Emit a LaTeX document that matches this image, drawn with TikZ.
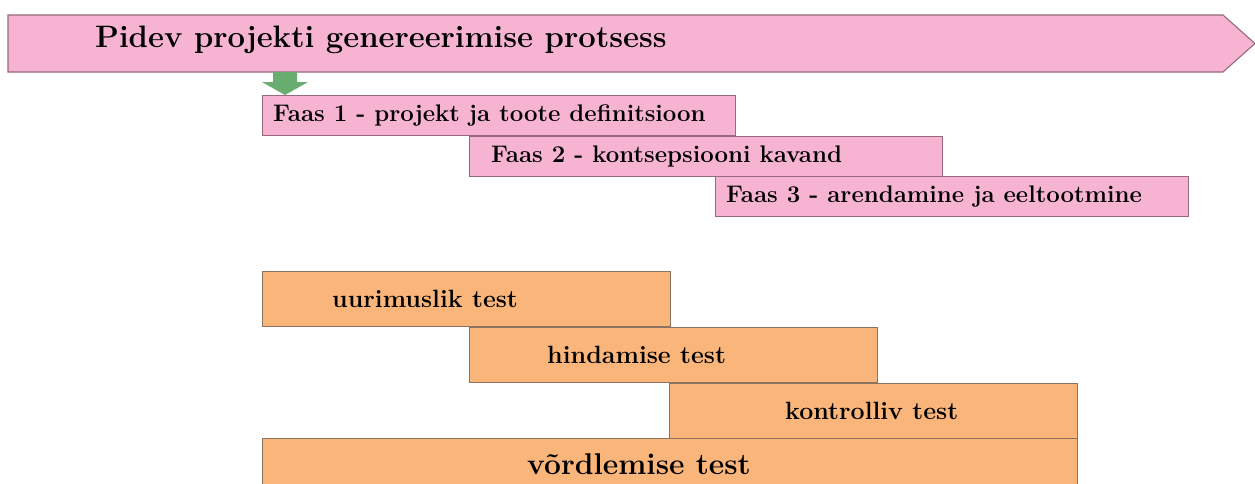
\documentclass[tikz,border=0pt]{standalone}
\usepackage{tikz}
\definecolor{phasepink}{RGB}{247,180,210}
\definecolor{phaseedge}{RGB}{150,105,125}
\definecolor{testorange}{RGB}{250,182,122}
\definecolor{testedge}{RGB}{140,115,95}
\definecolor{startgreen}{RGB}{104,172,112}

\begin{document}
\begin{tikzpicture}[x=1pt, y=-1pt, every node/.style={font=\bfseries},
      phase/.style={draw=phaseedge, line width=1.1pt, fill=phasepink, anchor=north west,
                    minimum width=473pt, minimum height=40pt, inner sep=0pt},
      testbox/.style={draw=testedge, line width=1.1pt, fill=testorange, anchor=north west,
                      minimum width=408pt, minimum height=55pt, inner sep=0pt},
      lbl/.style={anchor=west, inner sep=0pt, font=\bfseries\fontsize{24}{27}\selectfont},
      testlbl/.style={lbl, font=\bfseries\fontsize{25}{28}\selectfont}]
    \useasboundingbox (0,0) rectangle (1255,483);
    % continuous process banner
    \draw[draw=phaseedge, line width=1.1pt, fill=phasepink]
      (8,15) -- (1223,15) -- (1255,43.5) -- (1223,72) -- (8,72) -- cycle;
    \node[anchor=west, inner sep=0pt, font=\bfseries\fontsize{31}{34}\selectfont] (title) at (95,40)
      {Pidev projekti genereerimise protsess};
    % start arrow
    \fill[startgreen] (273,72) -- (297,72) -- (297,82) -- (308,82) -- (285,95)
      -- (262,82) -- (273,82) -- cycle;
    % phases
    \node[phase] (f1) at (262,95) {};
    \node[phase] (f2) at (469,136) {};
    \node[phase] (f3) at (715,176) {};
    \node[lbl] (f1t) at ([xshift=11pt]f1.west) {Faas 1 - projekt ja toote definitsioon};
    \node[lbl] (f2t) at ([xshift=22pt]f2.west) {Faas 2 - kontsepsiooni kavand};
    \node[lbl] (f3t) at ([xshift=11pt]f3.west) {Faas 3 - arendamine ja eeltootmine};
    % tests
    \node[testbox] (t1) at (262,271) {};
    \node[testbox] (t2) at (469,327) {};
    \node[testbox] (t3) at (669,383) {};
    \node[testbox, minimum width=815pt, minimum height=60pt] (t4) at (262,438) {};
    \node[testlbl] (t1t) at ([xshift=70pt]t1.west) {uurimuslik test};
    \node[testlbl] (t2t) at ([xshift=78pt]t2.west) {hindamise test};
    \node[testlbl] (t3t) at ([xshift=116pt]t3.west) {kontrolliv test};
    \node[lbl, font=\bfseries\fontsize{30}{33}\selectfont] (t4t) at (527,464) {võrdlemise test};
  \end{tikzpicture}
\end{document}
